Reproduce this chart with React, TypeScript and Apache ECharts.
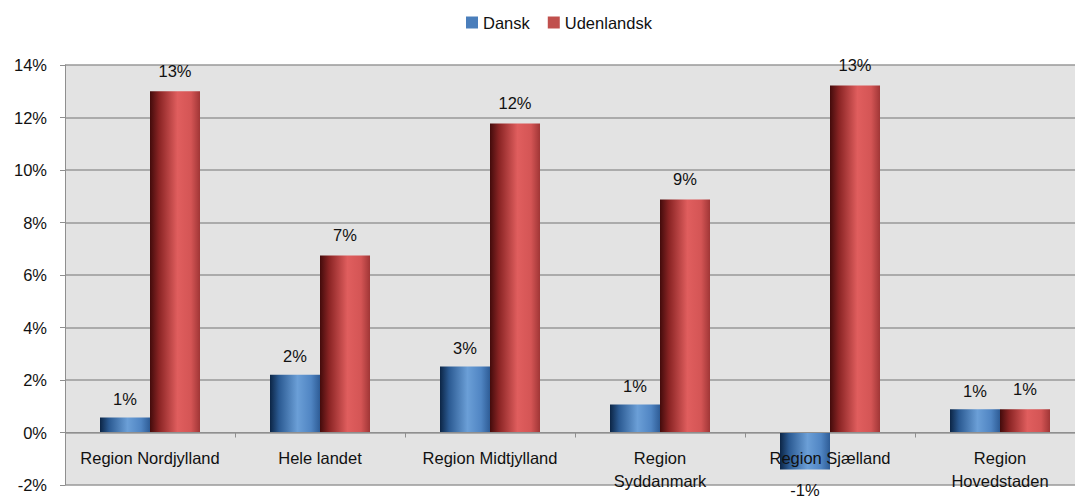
import React, { useEffect, useRef } from "react";
import * as echarts from "echarts";

const categories = [
  "Region Nordjylland",
  "Hele landet",
  "Region Midtjylland",
  "Region\nSyddanmark",
  "Region Sjælland",
  "Region\nHovedstaden",
];
const danskValues = [0.57, 2.2, 2.51, 1.07, -1.41, 0.89];
const udenlandskValues = [13.0, 6.74, 11.77, 8.88, 13.22, 0.89];
const yTicks = { min: -2, max: 14, interval: 2 };

const FONT = "Liberation Sans";
const FS = 16.5;

const blueGrad = new echarts.graphic.LinearGradient(0, 0, 1, 0, [
  { offset: 0, color: "#0c2545" },
  { offset: 0.18, color: "#2b5a92" },
  { offset: 0.55, color: "#6b9fd7" },
  { offset: 0.82, color: "#5085c3" },
  { offset: 1, color: "#2e5c96" },
]);
const redGrad = new echarts.graphic.LinearGradient(0, 0, 1, 0, [
  { offset: 0, color: "#430b0b" },
  { offset: 0.18, color: "#8a2424" },
  { offset: 0.55, color: "#e05e5e" },
  { offset: 0.82, color: "#d45555" },
  { offset: 1, color: "#a03636" },
]);

const fmt = (p: any) => Math.round(p.value) + "%";

// grid geometry (pixels) used to place the category axis on the 0% line
const GRID_TOP = 65;
const GRID_H = 420;
const zeroOffset = -(GRID_H * (0 - yTicks.min)) / (yTicks.max - yTicks.min);

export default function App() {
  const ref = useRef<HTMLDivElement>(null);
  useEffect(() => {
    if (!ref.current) return;
    const chart = echarts.init(ref.current, null, { renderer: "svg" });
    chart.setOption({
      animation: false,
      backgroundColor: "#ffffff",
      textStyle: { fontFamily: FONT },
      legend: {
        top: 9,
        left: 461,
        itemWidth: 12,
        itemHeight: 12,
        itemGap: 18,
        itemTextGap: 4,
        icon: "rect",
        textStyle: { fontFamily: FONT, fontSize: FS, color: "#111" },
        data: [
          { name: "Dansk", itemStyle: { color: "#4a7ebb" } },
          { name: "Udenlandsk", itemStyle: { color: "#c0504d" } },
        ],
      },
      grid: {
        left: 65,
        top: GRID_TOP,
        width: 1020,
        height: GRID_H,
        outerBoundsMode: "none",
        containLabel: false,
        show: true,
        backgroundColor: "#e3e3e3",
        borderWidth: 0,
      },
      xAxis: {
        type: "category",
        data: categories,
        offset: zeroOffset,
        z: 10,
        axisLine: { onZero: false, lineStyle: { color: "#8f8f8f", width: 1 } },
        axisTick: { show: true, length: 5, inside: false, lineStyle: { color: "#8f8f8f" } },
        axisLabel: {
          fontFamily: FONT,
          fontSize: FS,
          color: "#111",
          margin: 14,
          lineHeight: 23,
          interval: 0,
        },
      },
      yAxis: {
        type: "value",
        min: yTicks.min,
        max: yTicks.max,
        interval: yTicks.interval,
        axisLine: { show: true, lineStyle: { color: "#8f8f8f" } },
        axisTick: { show: true, length: 5, lineStyle: { color: "#8f8f8f" } },
        splitLine: { show: true, lineStyle: { color: "#999999", width: 1.5 } },
        axisLabel: {
          fontFamily: FONT,
          fontSize: FS,
          color: "#111",
          margin: 18,
          formatter: (v: number) => v + "%",
        },
      },
      series: [
        {
          name: "Dansk",
          type: "bar",
          barWidth: 50,
          barGap: "0%",
          itemStyle: { color: blueGrad },
          label: {
            show: true,
            position: "top",
            distance: 10,
            fontFamily: FONT,
            fontSize: FS,
            color: "#111",
            formatter: fmt,
          },
          data: danskValues.map((v) =>
            v < 0 ? { value: v, label: { position: "bottom", distance: 12 } } : v
          ),
        },
        {
          name: "Udenlandsk",
          type: "bar",
          barWidth: 50,
          barGap: "0%",
          itemStyle: { color: redGrad },
          label: {
            show: true,
            position: "top",
            distance: 12,
            fontFamily: FONT,
            fontSize: FS,
            color: "#111",
            formatter: fmt,
          },
          data: udenlandskValues,
        },
      ],
    });
    return () => chart.dispose();
  }, []);
  return (
    <div style={{ position: "fixed", left: 0, top: 0, width: 1075, height: 498, overflow: "hidden", background: "#fff" }}>
      <div ref={ref} style={{ width: 1090, height: 498 }} />
    </div>
  );
}
